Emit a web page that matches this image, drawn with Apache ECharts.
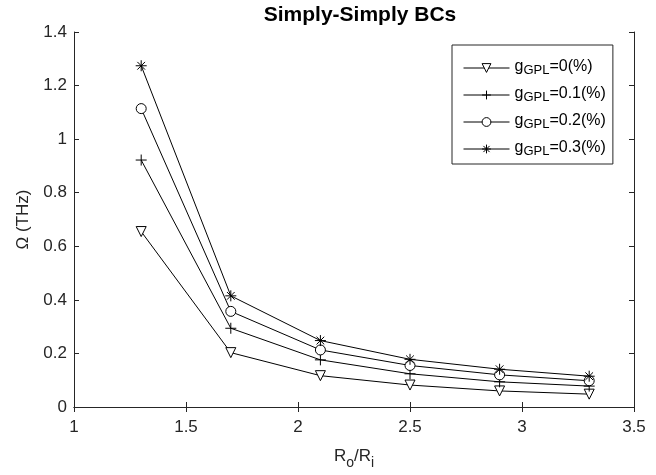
<!DOCTYPE html>
<html><head><meta charset="utf-8">
<script src="https://cdn.jsdelivr.net/npm/echarts@6/dist/echarts.min.js"></script>
<style>html,body{margin:0;padding:0;background:#fff}#c{width:656px;height:475px}</style>
</head><body><div id="c"></div>
<script>
const xValues = [1.3, 1.7, 2.1, 2.5, 2.9, 3.3];
const g0 = [0.655, 0.203, 0.117, 0.082, 0.060, 0.048];
const g01 = [0.922, 0.294, 0.176, 0.124, 0.094, 0.078];
const g02 = [1.114, 0.357, 0.213, 0.155, 0.120, 0.098];
const g03 = [1.274, 0.415, 0.248, 0.178, 0.141, 0.115];
const seriesLabels = ['0', '0.1', '0.2', '0.3'];
const xTicks = [1, 1.5, 2, 2.5, 3, 3.5];
const yTicks = [0, 0.2, 0.4, 0.6, 0.8, 1, 1.2, 1.4];

const FONT = 'Liberation Sans, Arial, sans-serif';
const TXT = '#262626';
const symbols = [
  'triangle',
  'path://M0,-1L0,1M-1,0L1,0',
  'circle',
  'path://M0,-1L0,1M-1,0L1,0M-0.7,-0.7L0.7,0.7M-0.7,0.7L0.7,-0.7'
];
const sizes = [10, 11, 10, 11];
const datasets = [g0, g01, g02, g03];

const series = datasets.map((d, i) => ({
  name: 'g' + seriesLabels[i],
  type: 'line',
  data: d.map((v, j) => [xValues[j], v]),
  symbol: symbols[i],
  symbolSize: sizes[i],
  symbolRotate: i === 0 ? 180 : 0,
  showAllSymbol: true,
  lineStyle: { color: '#000', width: 1 },
  itemStyle: { color: (i === 0 || i === 2) ? '#fff' : 'none', borderColor: '#000', borderWidth: 1 },
  emphasis: { disabled: true },
  animation: false,
  z: 3
}));

const chart = echarts.init(document.getElementById('c'), null, { renderer: 'canvas' });
const axisCommon = {
  axisLine: { show: true, lineStyle: { color: TXT, width: 1 } },
  axisTick: { show: true, inside: true, length: 5, lineStyle: { color: TXT } },
  splitLine: { show: false }
};
chart.setOption({
  animation: false,
  backgroundColor: '#fff',
  title: {
    text: 'Simply-Simply BCs',
    left: 355, top: 0, textAlign: 'center',
    textStyle: { fontFamily: FONT, fontWeight: 'bold', fontSize: 21, color: '#000' }
  },
  grid: { left: 74, right: 22, top: 32, bottom: 66, containLabel: false },
  legend: {
    orient: 'vertical',
    left: 452, top: 45,
    padding: [12, 7, 6, 11],
    itemWidth: 46, itemHeight: 11,
    itemGap: 7,
    borderColor: '#262626', borderWidth: 1,
    backgroundColor: '#fff',
    lineStyle: { width: 1 },
    itemStyle: { borderWidth: 1 },
    data: series.map(s => s.name),
    formatter: function (name) { return '{a|g}{s|GPL}{a|=' + name.slice(1) + '(%)}'; },
    textStyle: {
      fontFamily: FONT, color: '#000',
      rich: {
        a: { fontFamily: FONT, fontSize: 16, color: '#000', verticalAlign: 'top', lineHeight: 18 },
        s: { fontFamily: FONT, fontSize: 13, color: '#000', verticalAlign: 'bottom', lineHeight: 18, padding: [7, 0, 0, 0] }
      }
    }
  },
  xAxis: [
    Object.assign({
      type: 'value', min: 1, max: 3.5, interval: 0.5, position: 'bottom',
      axisLabel: { fontFamily: FONT, fontSize: 17, color: TXT, margin: 12,
        formatter: v => xTicks.includes(+v.toFixed(2)) ? String(+v.toFixed(2)) : '' },
      name: '{a|R}{s|o}{a|/R}{s|i}',
      nameLocation: 'middle', nameGap: 41,
      nameTextStyle: { rich: {
        a: { fontFamily: FONT, fontSize: 17, color: TXT, verticalAlign: 'top', lineHeight: 22 },
        s: { fontFamily: FONT, fontSize: 14, color: TXT, verticalAlign: 'bottom', lineHeight: 22, padding: [10, 0, 0, 0] }
      } }
    }, axisCommon),
    Object.assign({
      type: 'value', min: 1, max: 3.5, interval: 0.5, position: 'top',
      axisLabel: { show: false }
    }, axisCommon)
  ],
  yAxis: [
    Object.assign({
      type: 'value', min: 0, max: 1.4, interval: 0.2, position: 'left',
      axisLabel: { fontFamily: FONT, fontSize: 17, color: TXT, margin: 7,
        formatter: v => yTicks.includes(+v.toFixed(2)) ? String(+v.toFixed(2)) : '' },
      name: 'Ω (THz)', nameLocation: 'middle', nameGap: 42, nameRotate: 90,
      nameTextStyle: { fontFamily: FONT, fontSize: 17, color: TXT }
    }, axisCommon),
    Object.assign({
      type: 'value', min: 0, max: 1.4, interval: 0.2, position: 'right',
      axisLabel: { show: false }
    }, axisCommon)
  ],
  series: series
});
</script></body></html>
